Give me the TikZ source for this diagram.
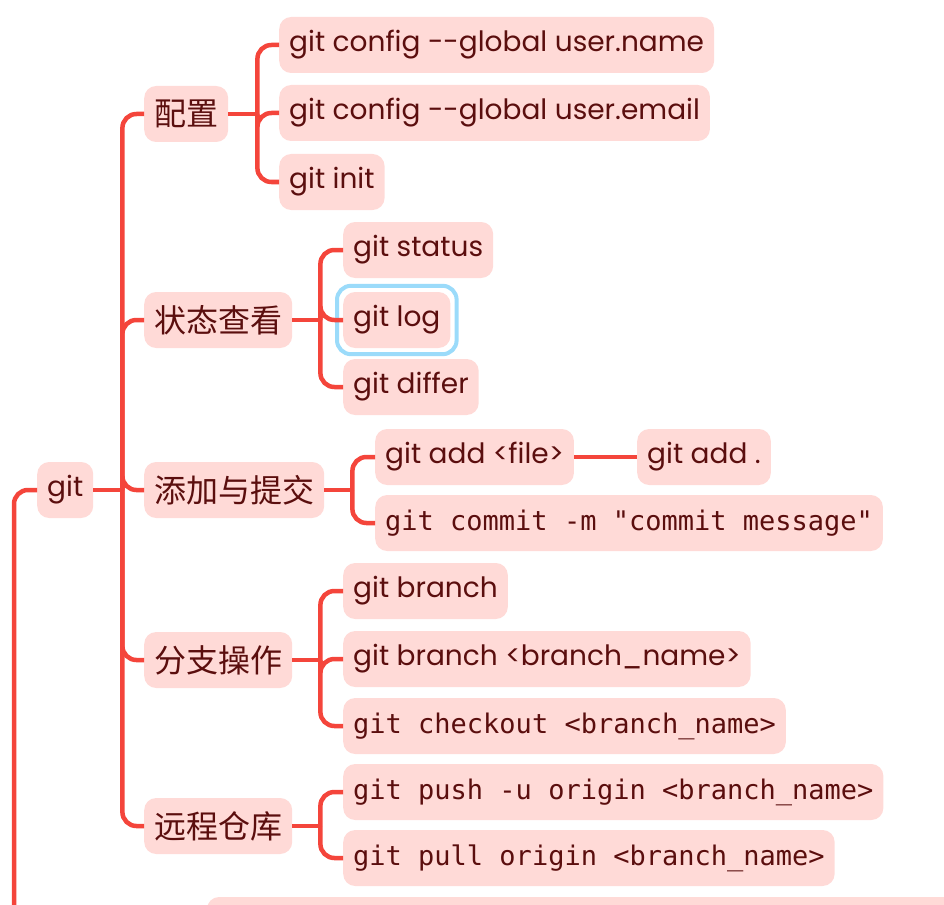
\documentclass[tikz,border=0pt]{standalone}
\usepackage{fontspec}
\setmainfont{Poppins}
\setmonofont{DejaVu Sans Mono}
\newfontfamily\cjk{Noto Sans CJK SC}
\definecolor{boxpink}{HTML}{FFDAD7}
\definecolor{ink}{HTML}{5B0E0E}
\definecolor{linkred}{HTML}{F4453B}
\definecolor{selblue}{HTML}{9BDBFA}
\tikzset{
  topic/.style={fill=boxpink, text=ink, rounded corners=12pt, inner xsep=10pt, inner ysep=0pt, minimum height=56pt, anchor=west, font=\fontsize{28}{32}\selectfont},
  cntopic/.style={topic, font=\cjk\fontsize{32}{36}\selectfont},
  codetopic/.style={topic, font=\ttfamily\fontsize{27}{32}\selectfont},
  link/.style={draw=linkred, line width=4.5pt, rounded corners=14pt},
  picked/.style={draw=selblue, line width=4pt, rounded corners=14pt}
}
\begin{document}
\begin{tikzpicture}[x=1pt, y=-1pt]
\useasboundingbox (0, 0) rectangle (944, 904);

\fill [boxpink, rounded corners=12pt] (207, 897) rectangle (990, 960);

\node [topic] (git) at (37, 490) {git};

\node [cntopic] (peizhi) at (144, 114) {配置};
\node [cntopic] (zhuangtai) at (144, 320) {状态查看};
\node [cntopic] (tianjia) at (144, 490) {添加与提交};
\node [cntopic] (fenzhi) at (144, 660) {分支操作};
\node [cntopic] (yuancheng) at (144, 826) {远程仓库};

\node [topic] (username) at (279, 45) {git config -{}-global user.name};
\node [topic] (useremail) at (279, 113) {git config -{}-global user.email};
\node [topic] (init) at (279, 182) {git init};

\node [topic] (status) at (343, 250) {git status};
\node [topic] (log) at (343, 320) {git log};
\node [topic] (differ) at (343, 387) {git differ};

\node [topic] (addfile) at (375, 457) {git add <file>};
\node [topic] (adddot) at (637, 457) {git add .};
\node [codetopic] (commit) at (375, 523) {git commit -m "commit message"};

\node [topic] (branch) at (343, 591) {git branch};
\node [topic] (newbranch) at (343, 659) {git branch <branch\_name>};
\node [codetopic] (checkout) at (343, 726) {git checkout <branch\_name>};

\node [codetopic] (push) at (343, 792) {git push -u origin <branch\_name>};
\node [codetopic] (pull) at (343, 858) {git pull origin <branch\_name>};

\draw [picked] ([shift={(-6pt,6pt)}]log.north west) rectangle ([shift={(6pt,-6pt)}]log.south east);

\coordinate (jgit) at ([xshift=29pt]git.east);
\coordinate (jpeizhi) at ([xshift=29pt]peizhi.east);
\coordinate (jzhuangtai) at ([xshift=28pt]zhuangtai.east);
\coordinate (jtianjia) at ([xshift=28pt]tianjia.east);
\coordinate (jfenzhi) at ([xshift=28pt]fenzhi.east);
\coordinate (jyuancheng) at ([xshift=28pt]yuancheng.east);
\coordinate (gitdown) at (14, 930);

\draw [link] (git.west) -| (gitdown);
\draw [link] (git.east) -- (jgit);
\foreach \c in {peizhi, zhuangtai, tianjia, fenzhi, yuancheng}
  \draw [link] (jgit) |- (\c.west);

\draw [link] (peizhi.east) -- (jpeizhi);
\foreach \c in {username, useremail, init}
  \draw [link] (jpeizhi) |- (\c.west);

\draw [link] (zhuangtai.east) -- (jzhuangtai);
\foreach \c in {status, log, differ}
  \draw [link] (jzhuangtai) |- (\c.west);

\draw [link] (tianjia.east) -- (jtianjia);
\foreach \c in {addfile, commit}
  \draw [link] (jtianjia) |- (\c.west);
\draw [link] (addfile.east) -- (adddot.west);

\draw [link] (fenzhi.east) -- (jfenzhi);
\foreach \c in {branch, newbranch, checkout}
  \draw [link] (jfenzhi) |- (\c.west);

\draw [link] (yuancheng.east) -- (jyuancheng);
\foreach \c in {push, pull}
  \draw [link] (jyuancheng) |- (\c.west);
\end{tikzpicture}
\end{document}
